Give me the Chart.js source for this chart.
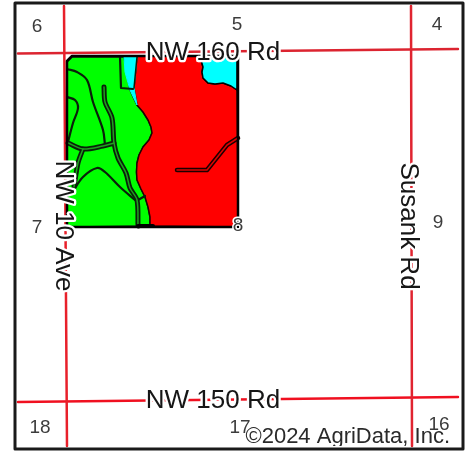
<!DOCTYPE html>
<html>
<head>
<meta charset="utf-8">
<title>Section map</title>
<script src="https://cdn.jsdelivr.net/npm/chart.js@4/dist/chart.umd.min.js"></script>
<style>
  html, body { margin: 0; padding: 0; background: #fff; }
  #map { display: block; filter: blur(0.5px); }
</style>
</head>
<body>
<canvas id="map" width="470" height="451"></canvas>
<script>
// map features, [x, y] in map grid units
var frame = [[15,3],[463,3],[463,449],[15,449],[15,3]];
var tract = [[72,56],[238,56],[238,227],[67,227],[67,61],[72,56]];

var roadNorth = [[18,53.5],[458,49]];
var roadSouth = [[18,402],[458,397]];
var roadWest = [[64,6],[67,446]];
var roadEast = [[411,6],[412,446]];

var greenSoil = [[67,62],[72,57],[124,57],[127,75],[130,90],[134,99],[137,105],[143,112],[148,120],[151,127],[152,133],[149,140],[143,147],[139,155],[137,163],[136.5,172],[137,180],[141,189],[145,197],[148,207],[150,217],[150,226],[67,227],[67,62]];
var redSoil = [[137,56],[200,56],[201,60],[203,67],[202,72],[203,78],[208,83],[215,84],[223,83],[231,86],[237,90],[238,227],[150,226],[150,217],[148,207],[145,197],[141,189],[137,180],[136.5,172],[137,163],[139,155],[143,147],[149,140],[152,133],[151,127],[148,120],[143,112],[137,105],[134,88],[137,56]];
var cyanEast = [[200,56],[238,56],[237,90],[231,86],[223,83],[215,84],[208,83],[203,78],[202,72],[203,67],[201,60],[200,56]];
var cyanWest = [[124,57],[137,57],[134,88],[137,105],[130,90],[125,72],[124,57]];

var streamMain = [[104,87],[105,102],[112,118],[114,143],[118,158],[126,173],[130,188],[137,200],[138,226]];
var streamLink = [[68,143],[83,149],[103,146],[114,143]];
var streamBranch = [[83,149],[78,163],[74,187]];
var streamEast = [[177,170],[207,170],[227,145],[238,138]];
var drainA = [[67,69],[77,72],[87,80],[93,102],[103,130],[105,145]];
var drainB = [[67,97],[75,100],[78,108],[73,123],[68,142]];
var drainC = [[72,193],[83,177],[97,168],[105,172],[120,187],[135,200]];
var drainD = [[120,57],[121,88],[133,89]];
var drainG = [[137,57],[134,88]];
var drainE = [[138,200],[145,196]];
var drainF = [[138,226],[153,226]];

// section numbers
var sectionLabels = ["6","5","4","7","8","9","18","17","16"];
var sectionX = [37,237,437,37,238,438,40,240,439];
var sectionY = [27,25,25,228,226,223,428,428,425];

// road names
var roadLabels = ["NW 160 Rd","NW 150 Rd","NW 10 Ave","Susank Rd"];
var roadLabelX = [213,213,63,408];
var roadLabelY = [53,401,226,226];
var roadLabelTurn = [0,0,90,90];

var copyright = "©2024 AgriData, Inc.";
var copyrightAt = [450,437];

function pts(list) {
    return list.map(function (p) { return { x: p[0], y: p[1] }; });
}

function area(list, color, line, width) {
    return { data: pts(list), showLine: true, fill: 'shape', backgroundColor: color,
             borderColor: line, borderWidth: width, pointRadius: 0, tension: 0, borderJoinStyle: 'round' };
}

function stroke(list, color, width, curve) {
    return { data: pts(list), showLine: true, fill: false, borderColor: color,
             borderWidth: width, pointRadius: 0, tension: curve, borderCapStyle: 'round', borderJoinStyle: 'round' };
}

// paint order, bottom first
var layers = [
    stroke(roadNorth, "#dc2430", 2.5, 0),
    stroke(roadSouth, "#f01020", 2.5, 0),
    stroke(roadWest, "#e8202a", 2.5, 0),
    stroke(roadEast, "#e02430", 2.5, 0),
    area(greenSoil, "#00ff00", "#102010", 1.5),
    area(redSoil, "#ff0000", "#200000", 1.5),
    area(cyanEast, "#00ffff", "#000000", 1.5),
    area(cyanWest, "#00ffff", "#00ffff", 1),
    stroke(drainD, "#0a200a", 2.2, 0),
    stroke(drainG, "#0a200a", 1.5, 0),
    stroke(drainA, "#0a200a", 2.2, 0.35),
    stroke(drainB, "#0a200a", 2.2, 0.35),
    stroke(drainC, "#0a200a", 2.2, 0.35),
    stroke(drainE, "#0a200a", 2.2, 0),
    stroke(streamMain, "#0a200a", 5, 0.3),
    stroke(streamLink, "#0a200a", 5, 0.3),
    stroke(streamBranch, "#0a200a", 5, 0.3),
    stroke(streamMain, "#1fa01f", 1.5, 0.3),
    stroke(streamLink, "#1fa01f", 1.5, 0.3),
    stroke(streamBranch, "#1fa01f", 1.5, 0.3),
    stroke(streamEast, "#1a0000", 4.5, 0),
    stroke(streamEast, "#e00000", 1.5, 0),
    stroke(tract, "#000000", 2.5, 0),
    stroke(drainF, "#000000", 4, 0),
    stroke(frame, "#1a1a1a", 3, 0)
];

var mapLabels = {
    id: 'mapLabels',
    afterDatasetsDraw: function (chart) {
        var ctx = chart.ctx;
        var sx = chart.scales.x;
        var sy = chart.scales.y;
        ctx.save();
        ctx.textAlign = 'center';
        ctx.textBaseline = 'middle';
        ctx.lineJoin = 'round';

        ctx.font = '19px "Liberation Sans"';
        sectionLabels.forEach(function (t, i) {
            var px = sx.getPixelForValue(sectionX[i]);
            var py = sy.getPixelForValue(sectionY[i]);
            ctx.strokeStyle = '#fff';
            ctx.lineWidth = 3;
            ctx.strokeText(t, px, py);
            ctx.fillStyle = '#3c3c3c';
            ctx.fillText(t, px, py);
        });

        ctx.font = '26px "Liberation Sans"';
        roadLabels.forEach(function (t, i) {
            ctx.save();
            ctx.translate(sx.getPixelForValue(roadLabelX[i]), sy.getPixelForValue(roadLabelY[i]));
            ctx.rotate(roadLabelTurn[i] * Math.PI / 180);
            ctx.strokeStyle = '#fff';
            ctx.lineWidth = 4.5;
            ctx.strokeText(t, 0, 0);
            ctx.fillStyle = '#161616';
            ctx.fillText(t, 0, 0);
            ctx.restore();
        });

        // the credit line gets cut off just above the frame
        ctx.beginPath();
        ctx.rect(0, 0, chart.width, sy.getPixelForValue(446));
        ctx.clip();
        ctx.font = '22px "Liberation Sans"';
        ctx.textAlign = 'right';
        ctx.fillStyle = '#2a2a2a';
        ctx.fillText(copyright, sx.getPixelForValue(copyrightAt[0]), sy.getPixelForValue(copyrightAt[1]));
        ctx.restore();
    }
};

new Chart(document.getElementById("map"), {
    type: 'scatter',
    data: { datasets: layers.map(function (d, i) { d.order = layers.length - i; return d; }) },
    options: {
        responsive: false,
        animation: false,
        layout: { padding: 0 },
        plugins: { legend: { display: false }, tooltip: { enabled: false } },
        scales: {
            x: { type: 'linear', min: 0, max: 470, display: false },
            y: { type: 'linear', min: 0, max: 451, reverse: true, display: false }
        }
    },
    plugins: [mapLabels]
});
</script>
</body>
</html>
